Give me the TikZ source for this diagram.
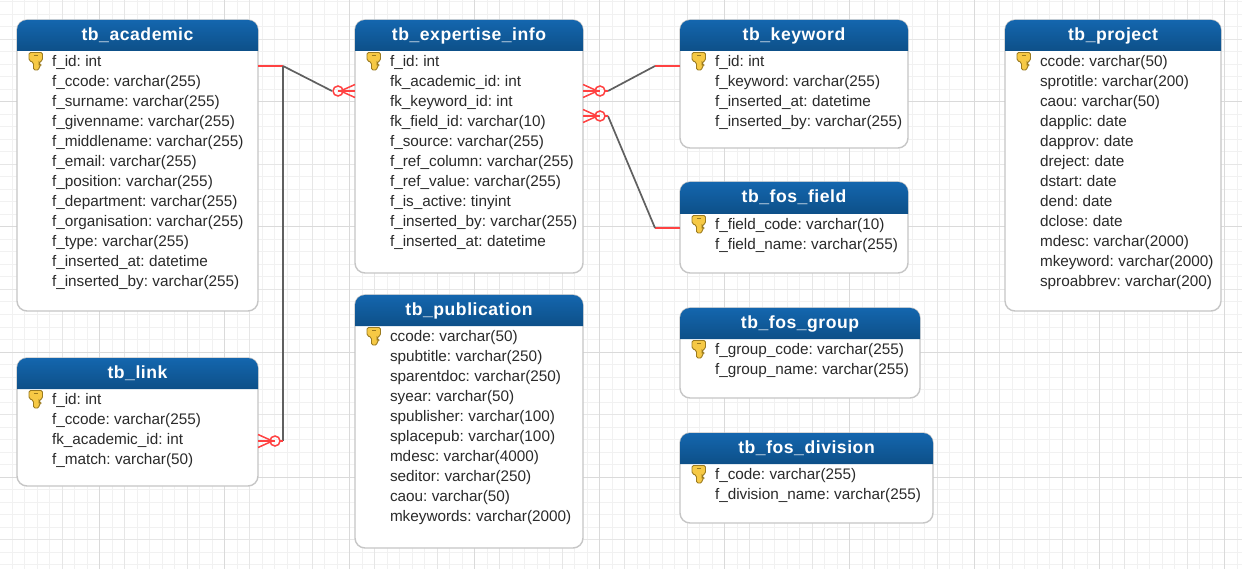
\documentclass[tikz,border=0pt]{standalone}
\usepackage{fontspec}
\setmainfont{Liberation Sans}[WordSpace=0.7]
\newfontface\titleface{Liberation Sans Bold}[LetterSpace=3]
\usetikzlibrary{calc}
\definecolor{gridmin}{HTML}{F1F1F1}
\definecolor{gridmed}{HTML}{E6E6E6}
\definecolor{gridmaj}{HTML}{DADADA}
\definecolor{boxline}{HTML}{C6C6C6}
\definecolor{hdrtop}{HTML}{1466AE}
\definecolor{hdrbot}{HTML}{0C4C82}
\definecolor{rowtext}{HTML}{2A2A2A}
\definecolor{relred}{HTML}{FF4242}
\definecolor{relgrey}{HTML}{606060}
\tikzset{
  tablebox/.style={draw=boxline,line width=1.4pt,fill=white,rounded corners=10pt,inner sep=0pt,outer sep=0pt},
  rowlabel/.style={anchor=base west,inner sep=0pt,outer sep=0pt,text=rowtext,font=\fontsize{15.3}{17}\selectfont},
  titlelabel/.style={anchor=base,inner sep=0pt,outer sep=0pt,text=white,font=\titleface\fontsize{17.6}{20}\selectfont},
  redline/.style={draw=relred,line width=1.6pt},
  greyline/.style={draw=relgrey,line width=1.7pt},
  crowfoot/.style={draw=relred,line width=1.5pt},
}
% name, x1, y1, x2, y2, header bottom, title, rows
\newcommand{\dbtable}[8]{%
  \node[tablebox,minimum width=#4pt-#2pt,minimum height=#5pt-#3pt,anchor=north west] (#1) at (#2,#3) {};
  \shade[top color=hdrtop,bottom color=hdrbot,rounded corners=10pt]
    (#2,#6) -- (#2,#3) -- (#4,#3) -- (#4,#6+5) [sharp corners] -- (#4,#6) -- cycle;
  \node[titlelabel] (#1title) at ({(#2+#4)/2},#3+20.5) {#7};
  \begin{scope}[shift={(#2,#6)}]
    \filldraw[fill=keygold,draw=keyedge,line width=0.9pt,rounded corners=1.5pt]
      (12,1.5) -- (25.5,1.5) -- (25.5,9.5) -- (22,11.5) -- (22,13) -- (24,14) -- (22,15.5) -- (22,19) -- (16.5,19) -- (16.5,11.5) -- (12,9.5) -- cycle;
    \fill[keyedge] (16.5,3.6) rectangle (21,5.4);
  \end{scope}
  \foreach \rowtext [count=\i from 0] in {#8} {
    \node[rowlabel] (#1row\i) at (#2+35,#6+15.7+20*\i) {\rowtext};
  }
}
\definecolor{keygold}{HTML}{F6C945}
\definecolor{keyedge}{HTML}{9A7A20}
\begin{document}
\begin{tikzpicture}[x=1pt,y=-1pt]
\useasboundingbox (0,0) rectangle (1242,569);
\fill[white] (0,0) rectangle (1242,569);
% grid
\foreach \k in {-8,...,99} \draw[gridmin,line width=1pt] ({-0.5+12.5*\k},0) -- ({-0.5+12.5*\k},569);
\foreach \k in {-1,...,46} \draw[gridmin,line width=1pt] (0,{2+12.5*\k}) -- (1242,{2+12.5*\k});
\foreach \k in {-1,...,20} \draw[gridmed,line width=1pt] ({-0.5+62.5*\k},0) -- ({-0.5+62.5*\k},569);
\foreach \k in {-1,...,10} \draw[gridmed,line width=1pt] (0,{-23+62.5*\k}) -- (1242,{-23+62.5*\k});
\foreach \k in {0,...,10} \draw[gridmaj,line width=1pt] ({99.5+125*\k},0) -- ({99.5+125*\k},569);
\foreach \k in {0,...,5} \draw[gridmaj,line width=1pt] (0,{-23+125*\k}) -- (1242,{-23+125*\k});
% tables
\dbtable{academic}{17}{20}{258}{311}{51}{tb\_academic}{f\_id: int,f\_ccode: varchar(255),f\_surname: varchar(255),f\_givenname: varchar(255),f\_middlename: varchar(255),f\_email: varchar(255),f\_position: varchar(255),f\_department: varchar(255),f\_organisation: varchar(255),f\_type: varchar(255),f\_inserted\_at: datetime,f\_inserted\_by: varchar(255)}
\dbtable{link}{17}{358}{258}{486}{389}{tb\_link}{f\_id: int,f\_ccode: varchar(255),fk\_academic\_id: int,f\_match: varchar(50)}
\dbtable{expertise}{355}{20}{583}{273}{51}{tb\_expertise\_info}{f\_id: int,fk\_academic\_id: int,fk\_keyword\_id: int,fk\_field\_id: varchar(10),f\_source: varchar(255),f\_ref\_column: varchar(255),f\_ref\_value: varchar(255),f\_is\_active: tinyint,f\_inserted\_by: varchar(255),f\_inserted\_at: datetime}
\dbtable{publication}{355}{295}{583}{548}{326}{tb\_publication}{ccode: varchar(50),spubtitle: varchar(250),sparentdoc: varchar(250),syear: varchar(50),spublisher: varchar(100),splacepub: varchar(100),mdesc: varchar(4000),seditor: varchar(250),caou: varchar(50),mkeywords: varchar(2000)}
\dbtable{keyword}{680}{20}{908}{148}{51}{tb\_keyword}{f\_id: int,f\_keyword: varchar(255),f\_inserted\_at: datetime,f\_inserted\_by: varchar(255)}
\dbtable{field}{680}{182}{908}{273}{214}{tb\_fos\_field}{f\_field\_code: varchar(10),f\_field\_name: varchar(255)}
\dbtable{group}{680}{308}{920}{398}{339}{tb\_fos\_group}{f\_group\_code: varchar(255),f\_group\_name: varchar(255)}
\dbtable{division}{680}{433}{933}{523}{464}{tb\_fos\_division}{f\_code: varchar(255),f\_division\_name: varchar(255)}
\dbtable{project}{1005}{20}{1221}{311}{51}{tb\_project}{ccode: varchar(50),sprotitle: varchar(200),caou: varchar(50),dapplic: date,dapprov: date,dreject: date,dstart: date,dend: date,dclose: date,mdesc: varchar(2000),mkeyword: varchar(2000),sproabbrev: varchar(200)}
% connectors
\coordinate (bendA) at (283,66);
\coordinate (acadOut) at (academic.east |- bendA);
\coordinate (expIn) at (expertise.west |- 0,91);
\coordinate (linkIn) at (link.east |- 0,441);
\coordinate (expKw) at (expertise.east |- 0,91);
\coordinate (expFd) at (expertise.east |- 0,116);
\coordinate (kwIn) at (keyword.west |- 0,66);
\coordinate (fdIn) at (field.west |- 0,228);
\coordinate (bendK) at (655,66);
\coordinate (bendF) at (655,228);
\draw[redline] (acadOut) -- (bendA);
\draw[greyline] (bendA) -- ($(expIn)+(-23,0)$);
\draw[greyline] (bendA) -- (bendA |- linkIn);
\draw[redline] (bendA |- linkIn) -- ($(linkIn)+(22,0)$);
\draw[redline] (kwIn) -- (bendK);
\draw[greyline] (bendK) -- ($(expKw)+(25,0)$);
\draw[redline] (fdIn) -- (bendF);
\draw[greyline] (bendF) -- ($(expFd)+(25,0)$);
\draw[redline] ($(expFd)+(22,0)$) -- ($(expFd)+(25,0)$);
\draw[redline] ($(expKw)+(22,0)$) -- ($(expKw)+(25,0)$);
% crow's feet: end on table edge, direction +1 right / -1 left
\foreach \p/\d in {expIn/-1,linkIn/1,expKw/1,expFd/1} {
  \draw[crowfoot] ($(\p)+(\d*17,0)$) circle (5);
  \draw[crowfoot] ($(\p)+(\d*14.5,0)$) -- ($(\p)+(0,-6.5)$);
  \draw[crowfoot] ($(\p)+(\d*14.5,0)$) -- ($(\p)+(0,6.5)$);
  \draw[crowfoot] ($(\p)+(\d*17,0)$) -- (\p);
}
\end{tikzpicture}
\end{document}
